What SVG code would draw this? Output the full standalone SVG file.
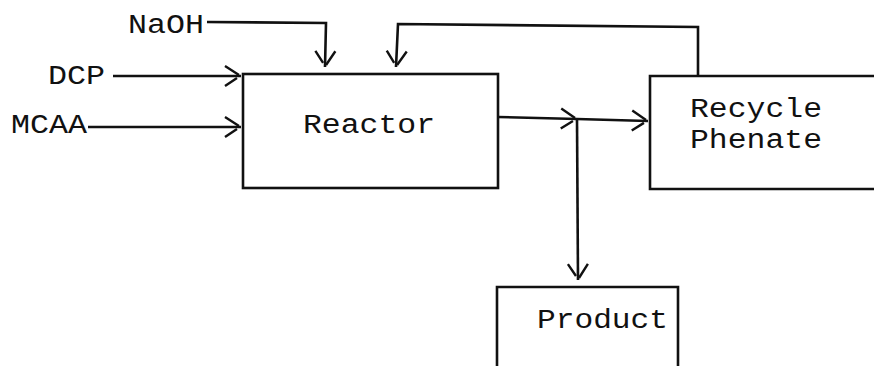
<svg xmlns="http://www.w3.org/2000/svg" width="874" height="366" viewBox="0 0 874 366">
<style>
.t{font-family:"Liberation Mono","DejaVu Sans Mono",monospace;font-size:27px;fill:#111}
.b{fill:none;stroke:#111;stroke-width:2.6}
.c{fill:none;stroke:#111;stroke-width:2.6;stroke-linejoin:miter}
</style>
<defs>
<marker id="ah" markerUnits="userSpaceOnUse" viewBox="-20 -14 24 28" refX="0" refY="0" markerWidth="24" markerHeight="28" orient="auto">
<path d="M-16,-10 L-2,-1 M-16,10 L-4,2" fill="none" stroke="#111" stroke-width="2.4"/>
</marker>
</defs>
<rect width="874" height="366" fill="#fff"/>
<g id="connectors">
<polyline class="c" points="207,22 326,23 325,67" marker-end="url(#ah)"/>
<polyline class="c" points="698,76 698,27 398,24 396,67" marker-end="url(#ah)"/>
<line class="c" x1="113" y1="76" x2="241" y2="76" marker-end="url(#ah)"/>
<line class="c" x1="88" y1="127" x2="241" y2="127" marker-end="url(#ah)"/>
<polyline class="c" points="498,117 577,119 648,121" marker-mid="url(#ah)" marker-end="url(#ah)"/>
<line class="c" x1="577" y1="119" x2="578" y2="280" marker-end="url(#ah)"/>
</g>
<g id="naoh"><text class="t" x="128" y="33" textLength="76" lengthAdjust="spacingAndGlyphs">NaOH</text></g>
<g id="dcp"><text class="t" x="48" y="84" textLength="57" lengthAdjust="spacingAndGlyphs">DCP</text></g>
<g id="mcaa"><text class="t" x="11" y="133" textLength="76" lengthAdjust="spacingAndGlyphs">MCAA</text></g>
<g id="reactor">
<rect class="b" x="243" y="74" width="255" height="114"/>
<text class="t" x="303" y="133" textLength="132" lengthAdjust="spacingAndGlyphs">Reactor</text>
</g>
<g id="recycle">
<path class="b" d="M874,76 L650,76 L650,189 L874,189"/>
<text class="t" x="690" y="117" textLength="132" lengthAdjust="spacingAndGlyphs">Recycle</text>
<text class="t" x="690" y="148" textLength="132" lengthAdjust="spacingAndGlyphs">Phenate</text>
</g>
<g id="product">
<path class="b" d="M497,366 L497,287 L678,287 L678,366"/>
<text class="t" x="537" y="328" textLength="131" lengthAdjust="spacingAndGlyphs">Product</text>
</g>
</svg>
